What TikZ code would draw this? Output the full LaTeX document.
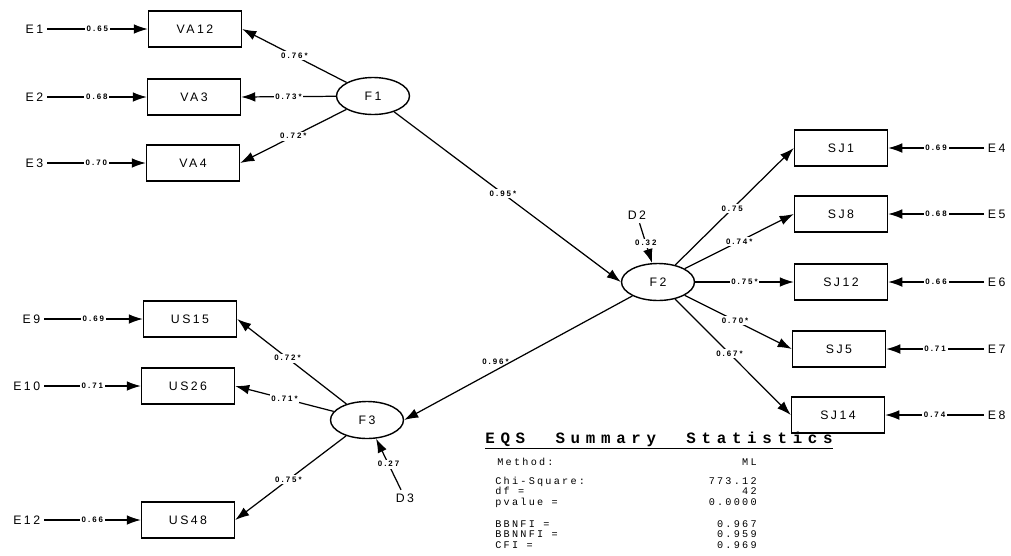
\documentclass[tikz,border=0pt]{standalone}
\usepackage{fontspec}
\setmainfont{Liberation Sans}
\newfontfamily\semfont[LetterSpace=20]{Liberation Sans}
\newfontfamily\coeffont[LetterSpace=25]{Liberation Sans}
\newfontfamily\eqstitle[LetterSpace=36]{Liberation Mono}
\newfontfamily\eqsfont[LetterSpace=22]{Liberation Mono}
\usetikzlibrary{arrows.meta,shapes.geometric}
\tikzset{
  obs/.style={draw,line width=0.8pt,minimum width=1.86cm,minimum height=0.72cm,inner sep=0pt,
    font=\semfont\fontsize{7}{8}\selectfont},
  lat/.style={draw,ellipse,line width=0.8pt,minimum width=1.46cm,minimum height=0.74cm,inner sep=0pt,
    font=\semfont\fontsize{7}{8}\selectfont},
  err/.style={inner sep=2pt,font=\semfont\fontsize{7}{8}\selectfont},
  coef/.style={fill=white,inner sep=1pt,font=\coeffont\bfseries\fontsize{4.5}{5}\selectfont},
  lnk/.style={-{Latex[length=8pt,width=5.5pt]},line width=0.7pt},
  stat/.style={inner sep=0pt,font=\eqsfont\fontsize{5.8}{6}\selectfont}
}
\begin{document}
\begin{tikzpicture}[x=0.02cm,y=-0.02cm]
\useasboundingbox (0,0) rectangle (1011,555);
\path
% factors
(373,96) node[lat] (F1) {F1}
(658,282) node[lat] (F2) {F2}
(367,420) node[lat] (F3) {F3}
(637,215) node[err] (D2) {D2}
(405,498) node[err] (D3) {D3}
% indicators of F1
(195,29) node[obs] (VA12) {VA12}
(194,97) node[obs] (VA3) {VA3}
(193,163) node[obs] (VA4) {VA4}
(47,29) node[err,anchor=east] (E1) {E1}
(47,97) node[err,anchor=east] (E2) {E2}
(47,163) node[err,anchor=east] (E3) {E3}
% indicators of F2
(841,148) node[obs] (SJ1) {SJ1}
(841,214) node[obs] (SJ8) {SJ8}
(841,282) node[obs] (SJ12) {SJ12}
(839,349) node[obs] (SJ5) {SJ5}
(838,415) node[obs] (SJ14) {SJ14}
(984,148) node[err,anchor=west] (E4) {E4}
(984,214) node[err,anchor=west] (E5) {E5}
(984,282) node[err,anchor=west] (E6) {E6}
(984,349) node[err,anchor=west] (E7) {E7}
(984,415) node[err,anchor=west] (E8) {E8}
% indicators of F3
(190,319) node[obs] (US15) {US15}
(188,386) node[obs] (US26) {US26}
(188,520) node[obs] (US48) {US48}
(44,319) node[err,anchor=east] (E9) {E9}
(44,386) node[err,anchor=east] (E10) {E10}
(44,520) node[err,anchor=east] (E12) {E12};

\draw[lnk] (E1) -- node[coef]{0.65} (VA12);
\draw[lnk] (E2) -- node[coef]{0.68} (VA3);
\draw[lnk] (E3) -- node[coef]{0.70} (VA4);
\draw[lnk] (F1) -- node[coef,pos=0.5]{0.76*} (VA12.east);
\draw[lnk] (F1) -- node[coef,pos=0.5]{0.73*} (VA3.east);
\draw[lnk] (F1) -- node[coef,pos=0.5]{0.72*} (VA4.east);
\draw[lnk] (F1) -- node[coef,pos=0.48]{0.95*} (F2.west);

\draw[lnk] (D2) -- node[coef]{0.32} (F2);
\draw[lnk] (F2) -- node[coef,pos=0.48]{0.75} (SJ1.west);
\draw[lnk] (F2) -- node[coef,pos=0.5]{0.74*} (SJ8.west);
\draw[lnk] (F2) -- node[coef,pos=0.5]{0.75*} (SJ12.west);
\draw[lnk] (F2) -- node[coef,pos=0.47]{0.70*} (SJ5.west);
\draw[lnk] (F2) -- node[coef,pos=0.47]{0.67*} (SJ14.west);
\draw[lnk] (E4) -- node[coef]{0.69} (SJ1);
\draw[lnk] (E5) -- node[coef]{0.68} (SJ8);
\draw[lnk] (E6) -- node[coef]{0.66} (SJ12);
\draw[lnk] (E7) -- node[coef]{0.71} (SJ5);
\draw[lnk] (E8) -- node[coef]{0.74} (SJ14);

\draw[lnk] (F2) -- node[coef,pos=0.6,above=2pt,fill=none]{0.96*} (F3.east);
\draw[lnk] (D3) -- node[coef]{0.27} (F3);
\draw[lnk] (F3) -- node[coef,pos=0.54]{0.72*} (US15.east);
\draw[lnk] (F3) -- node[coef,pos=0.5]{0.71*} (US26.east);
\draw[lnk] (F3) -- node[coef,pos=0.52]{0.75*} (US48.east);
\draw[lnk] (E9) -- node[coef]{0.69} (US15);
\draw[lnk] (E10) -- node[coef]{0.71} (US26);
\draw[lnk] (E12) -- node[coef]{0.66} (US48);

% summary box
\node[inner sep=0pt,anchor=base west,font=\eqstitle\bfseries\fontsize{9}{10}\selectfont] (title) at (485,443)
  {\underline{EQS\ \ Summary\ \ Statistics}};
\path
(497,465) node[stat,anchor=base west] (m1) {Method:}
(757,465) node[stat,anchor=base east] (v1) {ML}
(495,484) node[stat,anchor=base west] (m2) {Chi-Square:}
(757,484) node[stat,anchor=base east] (v2) {773.12}
(495,494.5) node[stat,anchor=base west] (m3) {df =}
(757,494.5) node[stat,anchor=base east] (v3) {42}
(495,505) node[stat,anchor=base west] (m4) {pvalue =}
(757,505) node[stat,anchor=base east] (v4) {0.0000}
(495,527) node[stat,anchor=base west] (m5) {BBNFI =}
(757,527) node[stat,anchor=base east] (v5) {0.967}
(495,537.5) node[stat,anchor=base east,anchor=base west] (m6) {BBNNFI =}
(757,537.5) node[stat,anchor=base east] (v6) {0.959}
(495,548) node[stat,anchor=base west] (m7) {CFI =}
(757,548) node[stat,anchor=base east] (v7) {0.969};
\end{tikzpicture}
\end{document}
